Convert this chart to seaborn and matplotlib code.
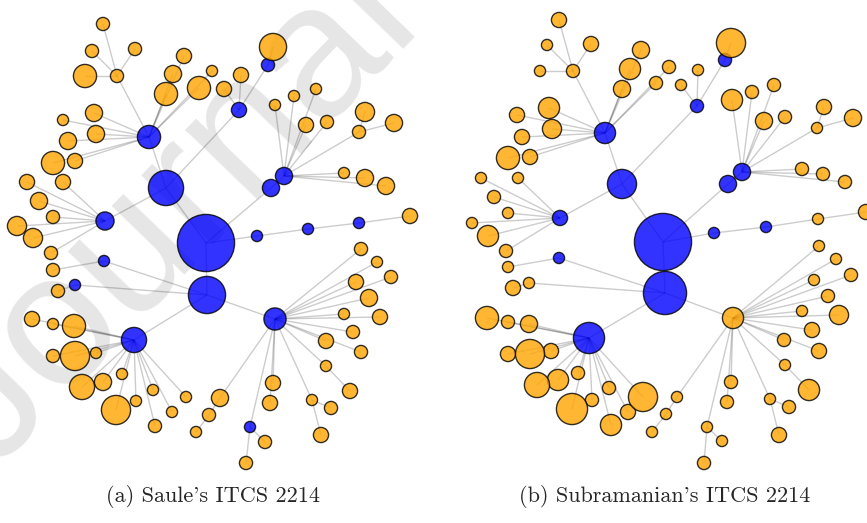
import matplotlib
matplotlib.use("Agg")
import matplotlib.pyplot as plt
from matplotlib.collections import LineCollection
import pandas as pd
import seaborn as sns

# node tables: (id, x, y, radius, group, parent) in page pixels
LEFT_NODES = [
    ("L0", 206, 243, 29, "B", None),
    ("L1", 207, 295, 19, "B", "L0"),
    ("L2", 166, 188, 18, "B", "L0"),
    ("L3", 149, 137, 12, "B", "L2"),
    ("L4", 105, 221, 9.5, "B", "L2"),
    ("L5", 239, 110, 8, "B", "L2"),
    ("L6", 268, 65, 7, "B", "L5"),
    ("L7", 271, 188, 9, "B", "L0"),
    ("L8", 284, 176, 9, "B", "L7"),
    ("L9", 257, 236, 6, "B", "L0"),
    ("L10", 308, 229, 6, "B", "L9"),
    ("L11", 359, 223, 6, "B", "L10"),
    ("L12", 134, 340, 13, "B", "L1"),
    ("L13", 275, 319, 11.5, "B", "L1"),
    ("L14", 104, 261, 6, "B", "L1"),
    ("L15", 75, 285, 6, "B", "L1"),
    ("L16", 250, 427, 6, "B", "L13"),
    ("l0", 410, 216, 8, "O", "L11"),
    ("la", 117, 76, 7, "O", "L3"),
    ("l1", 166, 94, 12, "O", "L3"),
    ("l2", 199, 88, 12, "O", "L3"),
    ("l3", 173, 74, 9, "O", "L3"),
    ("l4", 184, 56, 8, "O", "L3"),
    ("l5", 212, 71, 6, "O", "L3"),
    ("l6", 94, 113, 9, "O", "L3"),
    ("l7", 63, 120, 6, "O", "L3"),
    ("l8", 96, 134, 9, "O", "L3"),
    ("l9", 68, 141, 9, "O", "L3"),
    ("l10", 53, 163, 12, "O", "L3"),
    ("l11", 75, 161, 8, "O", "L3"),
    ("l12", 103, 24, 7, "O", "la"),
    ("l13", 92, 51, 7, "O", "la"),
    ("l14", 135, 49, 7, "O", "la"),
    ("l15", 85, 76, 12, "O", "la"),
    ("l16", 241, 75, 8, "O", "L5"),
    ("l17", 224, 89, 8, "O", "L5"),
    ("l18", 273, 47, 14, "O", "L6"),
    ("l19", 27, 182, 8, "O", "L4"),
    ("l20", 63, 182, 8, "O", "L4"),
    ("l21", 39, 201, 9, "O", "L4"),
    ("l22", 53, 217, 7, "O", "L4"),
    ("l23", 17, 226, 10, "O", "L4"),
    ("l24", 33, 238, 10, "O", "L4"),
    ("l25", 51, 253, 7, "O", "L4"),
    ("l26", 53, 270, 7, "O", "L14"),
    ("l27", 58, 291, 7, "O", "L15"),
    ("l28", 275, 105, 6, "O", "L8"),
    ("l29", 294, 96, 6, "O", "L8"),
    ("l30", 316, 89, 6, "O", "L8"),
    ("l31", 306, 125, 8, "O", "L8"),
    ("l32", 327, 122, 7, "O", "L8"),
    ("lb", 359, 132, 7, "O", "L8"),
    ("l33", 344, 173, 6, "O", "L8"),
    ("l34", 365, 178, 9, "O", "L8"),
    ("l35", 386, 186, 9, "O", "L8"),
    ("l36", 365, 112, 10, "O", "lb"),
    ("l37", 394, 123, 9, "O", "lb"),
    ("l38", 32, 319, 8, "O", "L12"),
    ("l39", 53, 324, 6, "O", "L12"),
    ("l40", 74, 326, 12, "O", "L12"),
    ("l41", 53, 356, 7, "O", "L12"),
    ("l42", 75, 356, 15, "O", "L12"),
    ("l43", 96, 353, 6, "O", "L12"),
    ("l44", 82, 387, 13, "O", "L12"),
    ("l45", 103, 382, 9, "O", "L12"),
    ("l46", 122, 374, 6, "O", "L12"),
    ("l47", 116, 410, 15, "O", "L12"),
    ("l48", 136, 401, 6, "O", "L12"),
    ("l49", 153, 390, 6, "O", "L12"),
    ("l50", 155, 426, 7, "O", "L12"),
    ("l51", 172, 412, 6, "O", "L12"),
    ("l52", 186, 397, 6, "O", "L12"),
    ("l53", 361, 249, 7, "O", "L13"),
    ("l54", 377, 262, 6, "O", "L13"),
    ("l55", 391, 277, 7, "O", "L13"),
    ("l56", 356, 282, 8, "O", "L13"),
    ("l57", 369, 298, 9, "O", "L13"),
    ("l58", 344, 314, 6, "O", "L13"),
    ("l59", 380, 317, 8, "O", "L13"),
    ("l60", 353, 332, 7, "O", "L13"),
    ("l61", 326, 341, 8, "O", "L13"),
    ("l62", 361, 352, 7, "O", "L13"),
    ("lc", 326, 366, 6, "O", "L13"),
    ("l63", 273, 383, 8, "O", "L13"),
    ("l64", 270, 403, 8, "O", "L13"),
    ("ld", 312, 400, 6, "O", "L13"),
    ("le", 220, 398, 9, "O", "L13"),
    ("l65", 350, 391, 8, "O", "lc"),
    ("l66", 331, 408, 7, "O", "ld"),
    ("l67", 321, 435, 8, "O", "ld"),
    ("lf", 209, 415, 7, "O", "le"),
    ("l68", 196, 432, 6, "O", "lf"),
    ("l69", 265, 442, 7, "O", "L16"),
    ("l70", 246, 463, 7, "O", "L16"),
]

RIGHT_NODES = [
    ("R0", 663, 242, 29, "B", None),
    ("R1", 665, 293, 22, "B", "R0"),
    ("R2", 622, 184, 15, "B", "R0"),
    ("R3", 605, 133, 11, "B", "R2"),
    ("R4", 560, 218, 8, "B", "R2"),
    ("R5", 697, 106, 7, "B", "R2"),
    ("R6", 725, 60, 7, "B", "R5"),
    ("R7", 728, 184, 9, "B", "R0"),
    ("R8", 742, 172, 9, "B", "R7"),
    ("R9", 714, 233, 6, "B", "R0"),
    ("R10", 766, 227, 6, "B", "R9"),
    ("R12", 589, 338, 16, "B", "R1"),
    ("R14", 559, 258, 6, "B", "R1"),
    ("rk", 818, 219, 6, "O", "R10"),
    ("r0", 866, 212, 8, "O", "rk"),
    ("R13", 733, 318, 11, "O", "R1"),
    ("R15", 529, 283, 6, "O", "R1"),
    ("R16", 707, 427, 6, "O", "R13"),
    ("ra", 573, 71, 7, "O", "R3"),
    ("r1", 549, 108, 11, "O", "R3"),
    ("r2", 517, 115, 8, "O", "R3"),
    ("r3", 552, 129, 10, "O", "R3"),
    ("r4", 522, 137, 8, "O", "R3"),
    ("r5", 508, 158, 12, "O", "R3"),
    ("r6", 530, 157, 8, "O", "R3"),
    ("r7", 641, 50, 9, "O", "R3"),
    ("r8", 630, 69, 11, "O", "R3"),
    ("r9", 622, 89, 9, "O", "R3"),
    ("r10", 656, 83, 7, "O", "R3"),
    ("r11", 669, 67, 7, "O", "R3"),
    ("r12", 559, 20, 8, "O", "ra"),
    ("r13", 547, 45, 6, "O", "ra"),
    ("r14", 591, 44, 8, "O", "ra"),
    ("r15", 540, 71, 6, "O", "ra"),
    ("r16", 698, 70, 6, "O", "R5"),
    ("r17", 681, 85, 6, "O", "R5"),
    ("r18", 731, 43, 15, "O", "R6"),
    ("r19", 481, 178, 6, "O", "R4"),
    ("r20", 518, 178, 6, "O", "R4"),
    ("r21", 494, 197, 7, "O", "R4"),
    ("r22", 508, 213, 6, "O", "R4"),
    ("r23", 472, 223, 6, "O", "R4"),
    ("r24", 488, 236, 11, "O", "R4"),
    ("r25", 506, 251, 7, "O", "R4"),
    ("r26", 508, 267, 6, "O", "R14"),
    ("r27", 513, 288, 8, "O", "R15"),
    ("r28", 732, 100, 11, "O", "R8"),
    ("r29", 752, 92, 7, "O", "R8"),
    ("r30", 774, 85, 7, "O", "R8"),
    ("r31", 764, 121, 9, "O", "R8"),
    ("r32", 785, 117, 7, "O", "R8"),
    ("rb", 817, 128, 6, "O", "R8"),
    ("r33", 802, 169, 7, "O", "R8"),
    ("r34", 823, 174, 7, "O", "R8"),
    ("r35", 845, 182, 7, "O", "R8"),
    ("r36", 824, 107, 8, "O", "rb"),
    ("r37", 853, 118, 9, "O", "rb"),
    ("r38", 487, 318, 12, "O", "R12"),
    ("r39", 508, 322, 7, "O", "R12"),
    ("r40", 529, 324, 9, "O", "R12"),
    ("r41", 508, 354, 8, "O", "R12"),
    ("r42", 530, 354, 15, "O", "R12"),
    ("r43", 551, 351, 8, "O", "R12"),
    ("r44", 537, 385, 13, "O", "R12"),
    ("r45", 558, 380, 11, "O", "R12"),
    ("r46", 578, 373, 7, "O", "R12"),
    ("r47", 572, 409, 16, "O", "R12"),
    ("r48", 592, 400, 7, "O", "R12"),
    ("r49", 609, 388, 7, "O", "R12"),
    ("r50", 611, 425, 11, "O", "R12"),
    ("r51", 628, 412, 8, "O", "R12"),
    ("r52", 643, 397, 15, "O", "R12"),
    ("r53", 819, 246, 6, "O", "R13"),
    ("r54", 836, 259, 6, "O", "R13"),
    ("r55", 851, 275, 7, "O", "R13"),
    ("r56", 814, 280, 6, "O", "R13"),
    ("r57", 828, 296, 7, "O", "R13"),
    ("r58", 802, 311, 6, "O", "R13"),
    ("r59", 839, 315, 10, "O", "R13"),
    ("r60", 812, 330, 8, "O", "R13"),
    ("r61", 784, 340, 7, "O", "R13"),
    ("r62", 819, 351, 8, "O", "R13"),
    ("rc", 785, 365, 6, "O", "R13"),
    ("r63", 731, 382, 7, "O", "R13"),
    ("r64", 727, 402, 7, "O", "R13"),
    ("rd", 770, 399, 6, "O", "R13"),
    ("re", 677, 397, 6, "O", "R13"),
    ("r65", 809, 390, 11, "O", "rc"),
    ("r66", 789, 407, 7, "O", "rd"),
    ("r67", 779, 435, 8, "O", "rd"),
    ("rf", 666, 414, 6, "O", "re"),
    ("r68", 652, 432, 6, "O", "rf"),
    ("r69", 722, 441, 6, "O", "R16"),
    ("r70", 704, 463, 7, "O", "R16"),
]

CAPTIONS = ["(a) Saule's ITCS 2214", "(b) Subramanian's ITCS 2214"]
CAPTION_X = [213, 665]
PALETTE = {"B": "blue", "O": "orange"}

W, H = 867, 523


def draw_network(ax, nodes, x_range, caption, caption_x):
    df = pd.DataFrame(nodes, columns=["id", "x", "y", "r", "group", "parent"])
    pos = df.set_index("id")[["x", "y"]]

    # edges: every node to its parent, light grey under the nodes
    tree = df.dropna(subset=["parent"])
    segs = [[pos.loc[p].values, pos.loc[c].values]
            for c, p in zip(tree["id"], tree["parent"])]
    ax.add_collection(LineCollection(segs, colors="black", alpha=0.2,
                                     linewidths=1.0, zorder=1))

    # pixel radius -> marker area in points^2
    df["s"] = (df["r"] * 2 * 72 / 100 - 0.6) ** 2
    df = df.sort_values("r", kind="stable")
    sns.scatterplot(data=df, x="x", y="y", hue="group", palette=PALETTE,
                    s=df["s"].values, alpha=0.8, edgecolor="black",
                    linewidth=1.0, legend=False, ax=ax, zorder=2)

    ax.set_xlim(*x_range)
    ax.set_ylim(H, 0)
    ax.text(caption_x, 497, caption, ha="center", va="center",
            fontsize=16, family="cmr10")
    ax.set_axis_off()


sns.set_theme(style="white")
fig = plt.figure(figsize=(W / 100, H / 100), dpi=100)

# faint watermark behind both panels
fig.text(-0.008, 0.101, "Journal", rotation=46, rotation_mode="anchor",
         fontsize=136, color="#e6e6e6", family="Liberation Sans",
         ha="left", va="baseline", zorder=-1)

ax_a = fig.add_axes([0, 0, 0.5, 1])
ax_b = fig.add_axes([0.5, 0, 0.5, 1])
draw_network(ax_a, LEFT_NODES, (0, W / 2), CAPTIONS[0], CAPTION_X[0])
draw_network(ax_b, RIGHT_NODES, (W / 2, W), CAPTIONS[1], CAPTION_X[1])

fig.savefig("out.png", dpi=100)
plt.close(fig)
